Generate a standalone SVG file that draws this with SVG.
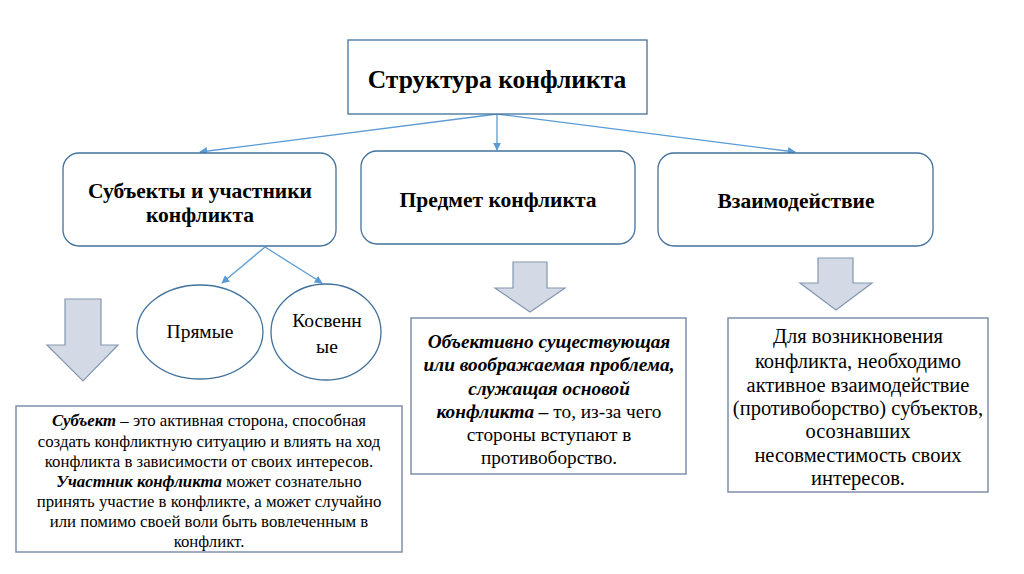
<svg xmlns="http://www.w3.org/2000/svg" width="1024" height="574" viewBox="0 0 1024 574">
<defs>
<style>
.t{font-family:'Liberation Serif','Times New Roman',serif;fill:#000;text-anchor:middle}
.b{font-weight:bold}
.bi{font-weight:bold;font-style:italic}
.node{fill:#fff;stroke:#41719c;stroke-width:1.3}
.box{fill:#fff;stroke:#7f8fa9;stroke-width:1.5}
.blk{fill:#d3dae6;stroke:#8497b0;stroke-width:1.2}
.con{stroke:#5b9bd5;stroke-width:1.3;fill:none}
</style>
<marker id="ah" viewBox="0 0 10 10" refX="9" refY="5" markerWidth="8" markerHeight="8" markerUnits="userSpaceOnUse" orient="auto"><path d="M0,0 L10,5 L0,10 z" fill="#5b9bd5"/></marker>
</defs>
<rect width="1024" height="574" fill="#fff"/>
<g id="connectors">
<line class="con" x1="497" y1="114" x2="200" y2="152" marker-end="url(#ah)"/>
<line class="con" x1="497" y1="114" x2="497" y2="150" marker-end="url(#ah)"/>
<line class="con" x1="497" y1="114" x2="795" y2="152" marker-end="url(#ah)"/>
<line class="con" x1="265" y1="247" x2="222" y2="283" marker-end="url(#ah)"/>
<line class="con" x1="265" y1="247" x2="322" y2="283" marker-end="url(#ah)"/>
</g>
<g id="title">
<rect class="node" x="348" y="40" width="299" height="74"/>
<text class="t b" x="497" y="88" font-size="25.5">Структура конфликта</text>
</g>
<g id="subjects">
<rect class="node" x="63" y="153" width="273" height="93" rx="16"/>
<text class="t b" x="200" y="198" font-size="21.5">Субъекты и участники</text>
<text class="t b" x="200" y="222" font-size="21.5">конфликта</text>
</g>
<g id="subject-matter">
<rect class="node" x="361" y="151" width="274" height="93" rx="16"/>
<text class="t b" x="498" y="207" font-size="21.5">Предмет конфликта</text>
</g>
<g id="interaction">
<rect class="node" x="658" y="153" width="275" height="93" rx="16"/>
<text class="t b" x="796" y="208" font-size="21.5">Взаимодействие</text>
</g>
<g id="direct">
<ellipse class="node" cx="200" cy="332" rx="63" ry="47"/>
<text class="t" x="200" y="338" font-size="19.5">Прямые</text>
</g>
<g id="indirect">
<ellipse class="node" cx="326" cy="332" rx="55" ry="48"/>
<text class="t" x="327" y="327" font-size="19.5">Косвенн</text>
<text class="t" x="327" y="353" font-size="19.5">ые</text>
</g>
<g id="arrow-left">
<path class="blk" d="M65,299 H101 V345 H118 L83,381 L47,345 H65 Z"/>
</g>
<g id="arrow-mid">
<path class="blk" d="M513,262 H547 V288 H565 L530,312 L495,288 H513 Z"/>
</g>
<g id="arrow-right">
<path class="blk" d="M818,258 H853 V283 H872 L836,310 L800,283 H818 Z"/>
</g>
<g id="subject-def">
<rect class="box" x="16" y="406" width="386" height="146"/>
<text class="t" font-size="16.8" x="209" y="426"><tspan class="bi">Субъект</tspan> – это активная сторона, способная</text>
<text class="t" font-size="16.8" x="209" y="447">создать конфликтную ситуацию и влиять на ход</text>
<text class="t" font-size="16.8" x="209" y="467">конфликта в зависимости от своих интересов.</text>
<text class="t" font-size="16.8" x="209" y="487"><tspan class="bi">Участник конфликта</tspan> может сознательно</text>
<text class="t" font-size="16.8" x="209" y="507">принять участие в конфликте, а может случайно</text>
<text class="t" font-size="16.8" x="209" y="527">или помимо своей воли быть вовлеченным в</text>
<text class="t" font-size="16.8" x="209" y="547">конфликт.</text>
</g>
<g id="matter-def">
<rect class="box" x="411" y="318" width="275" height="156"/>
<text class="t bi" font-size="19.3" x="549" y="348">Объективно существующая</text>
<text class="t bi" font-size="19.3" x="549" y="371">или воображаемая проблема,</text>
<text class="t bi" font-size="19.3" x="549" y="395">служащая основой</text>
<text class="t" font-size="19.3" x="549" y="418"><tspan class="bi">конфликта –</tspan> то, из-за чего</text>
<text class="t" font-size="19.3" x="549" y="441">стороны вступают в</text>
<text class="t" font-size="19.3" x="549" y="464">противоборство.</text>
</g>
<g id="interaction-def">
<rect class="box" x="728" y="318" width="260" height="174"/>
<text class="t" font-size="20.5" x="858" y="343">Для возникновения</text>
<text class="t" font-size="20.5" x="858" y="368">конфликта, необходимо</text>
<text class="t" font-size="20.5" x="858" y="392">активное взаимодействие</text>
<text class="t" font-size="20.5" x="858" y="415">(противоборство) субъектов,</text>
<text class="t" font-size="20.5" x="858" y="438">осознавших</text>
<text class="t" font-size="20.5" x="858" y="462">несовместимость своих</text>
<text class="t" font-size="20.5" x="858" y="485">интересов.</text>
</g>
</svg>
